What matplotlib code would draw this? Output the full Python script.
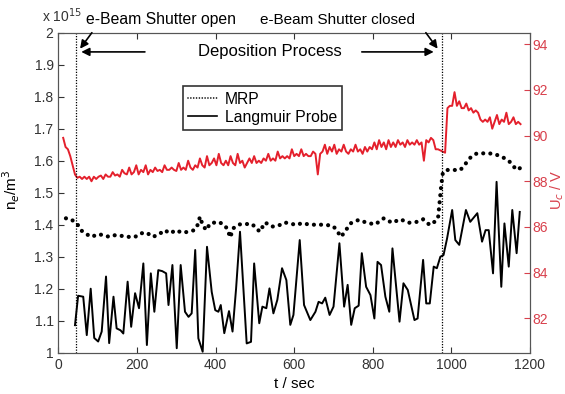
import numpy as np
import matplotlib
matplotlib.use("Agg")
import matplotlib.pyplot as plt

plt.rcParams['font.family'] = ['Liberation Sans', 'DejaVu Sans']

# Langmuir probe, n_e in 1e15 m^-3
t_lp = [42, 50, 63, 72, 82, 91, 101, 110, 121, 129, 140, 148, 158, 165, 176, 185,
        195, 205, 216, 225, 235, 244, 254, 264, 274, 280, 290, 301, 311, 322, 331,
        339, 348, 356, 367, 378, 390, 399, 407, 413, 422, 434, 443, 452, 462, 479,
        490, 498, 511, 519, 529, 537, 547, 557, 569, 580, 590, 598, 614, 625, 641,
        654, 662, 671, 679, 690, 700, 715, 727, 736, 745, 754, 764, 772, 783, 794,
        804, 812, 821, 832, 842, 850, 868, 878, 889, 906, 914, 928, 936, 945, 955,
        963, 972, 980, 989, 1002, 1010, 1020, 1037, 1048, 1066, 1078, 1087, 1095,
        1106, 1115, 1127, 1135, 1146, 1155, 1166, 1174]
n_lp = [1.086, 1.178, 1.175, 1.055, 1.20, 1.046, 1.035, 1.066, 1.238, 1.03, 1.175,
        1.076, 1.07, 1.06, 1.222, 1.081, 1.186, 1.139, 1.279, 1.024, 1.248, 1.128,
        1.258, 1.255, 1.248, 1.149, 1.274, 1.014, 1.274, 1.128, 1.112, 1.123, 1.321,
        1.045, 1.003, 1.331, 1.19, 1.133, 1.128, 1.149, 1.061, 1.130, 1.066, 1.20,
        1.378, 1.029, 1.034, 1.279, 1.092, 1.144, 1.139, 1.201, 1.123, 1.165, 1.264,
        1.227, 1.087, 1.118, 1.352, 1.149, 1.102, 1.128, 1.159, 1.154, 1.172, 1.118,
        1.144, 1.342, 1.144, 1.212, 1.087, 1.139, 1.147, 1.311, 1.206, 1.180, 1.107,
        1.284, 1.274, 1.175, 1.128, 1.326, 1.097, 1.217, 1.196, 1.102, 1.107, 1.290,
        1.154, 1.154, 1.269, 1.264, 1.30, 1.305, 1.357, 1.446, 1.352, 1.337, 1.446,
        1.409, 1.436, 1.347, 1.383, 1.383, 1.248, 1.534, 1.206, 1.404, 1.269, 1.446,
        1.311, 1.44]

# MRP, n_e in 1e15 m^-3
t_mrp = [19, 32, 48, 57, 70, 85, 99, 114, 129, 146, 161, 178, 195, 209, 225, 239,
         254, 270, 284, 299, 314, 331, 346, 355, 360, 367, 376, 386, 407, 423, 431,
         437, 445, 460, 475, 488, 501, 512, 526, 543, 560, 575, 590, 605, 620, 640,
         660, 680, 700, 712, 719, 730, 743, 764, 785, 806, 828, 849, 870, 891, 913,
         928, 945, 957, 966, 970, 974, 978, 985, 1008, 1023, 1037, 1050, 1065, 1081,
         1095, 1110, 1122, 1135, 1148, 1159, 1167, 1180]
n_mrp = [1.42, 1.417, 1.402, 1.383, 1.371, 1.362, 1.37, 1.368, 1.362, 1.368, 1.365,
         1.362, 1.362, 1.373, 1.375, 1.362, 1.368, 1.383, 1.373, 1.383, 1.375, 1.378,
         1.383, 1.401, 1.425, 1.399, 1.383, 1.404, 1.409, 1.399, 1.383, 1.36, 1.389,
         1.401, 1.401, 1.404, 1.394, 1.378, 1.407, 1.394, 1.397, 1.407, 1.404, 1.399,
         1.405, 1.40, 1.40, 1.40, 1.395, 1.375, 1.362, 1.38, 1.404, 1.415, 1.406,
         1.401, 1.42, 1.406, 1.417, 1.406, 1.409, 1.417, 1.399, 1.409, 1.42, 1.47,
         1.52, 1.56, 1.571, 1.571, 1.571, 1.592, 1.612, 1.623, 1.623, 1.623, 1.621,
         1.615, 1.608, 1.597, 1.581, 1.571, 1.581]

# U_c in V, sampled every 6 s from t = 12
t_uc = np.arange(12, 1177, 6)
u_c = [89.9, 89.5, 89.4, 89.1, 88.7, 88.3, 88.15, 88.2, 88.1, 88.2,
       88.1, 88.2, 88.0, 88.2, 88.1, 88.2, 88.25, 88.1, 88.3, 88.2,
       88.2, 88.4, 88.25, 88.3, 88.2, 88.5, 88.35, 88.3, 88.6, 88.3,
       88.4, 88.7, 88.3, 88.5, 88.4, 88.7, 88.3, 88.5, 88.4, 88.6,
       88.45, 88.5, 88.4, 88.7, 88.5, 88.5, 88.6, 88.5, 88.45, 88.8,
       88.5, 88.6, 88.5, 88.9, 88.6, 88.5, 88.7, 88.6, 89.0, 88.7,
       88.6, 89.1, 88.7, 88.8, 89.0, 88.7, 89.2, 88.8, 88.7, 88.9,
       88.7, 89.1, 88.8, 88.7, 89.2, 88.8, 88.9, 88.6, 88.8, 89.0,
       88.8, 89.1, 88.8, 88.9, 88.8, 89.0, 88.9, 89.2, 88.9, 89.0,
       88.9, 89.3, 89.0, 89.1, 89.0, 89.1, 89.0, 89.4, 89.1, 89.2,
       89.1, 89.4, 89.1, 89.2, 89.1, 89.1, 89.3, 89.2, 88.3, 89.2,
       89.3, 89.6, 89.2, 89.5, 89.3, 89.6, 89.2, 89.4, 89.3, 89.6,
       89.3, 89.2, 89.4, 89.3, 89.6, 89.3, 89.4, 89.2, 89.5, 89.3,
       89.5, 89.4, 89.7, 89.4, 89.8, 89.5, 89.7, 89.4, 89.8, 89.5,
       89.7, 89.5, 89.8, 89.6, 89.7, 89.5, 89.8, 89.6, 89.7, 89.6,
       89.8, 89.6, 89.7, 88.9, 89.8, 89.7, 89.9, 89.8, 89.4, 89.4,
       89.35, 89.3, 89.25, 91.2, 91.3, 91.3, 91.9, 91.3, 91.5, 91.2,
       91.2, 91.4, 91.1, 91.2, 91.0, 91.1, 91.0, 90.7, 90.6, 90.7,
       90.6, 90.8, 90.3, 90.6, 90.9, 90.5, 90.7, 90.6, 91.0, 90.5,
       90.6, 90.8, 90.5, 90.6, 90.5]

t_open, t_closed = 45, 975
red = '#e4202c'
red_txt = '#d8404c'

fig = plt.figure(figsize=(5.65, 3.94), dpi=100)
ax = fig.add_axes([0.1035, 0.1048, 0.8345, 0.8122])
ax2 = ax.twinx()

ax2.plot(t_uc, u_c, color=red, lw=1.4, zorder=3)
ax2.set_ylim(80.5, 94.5)
ax2.set_yticks(range(82, 95, 2))
ax2.tick_params(axis='y', direction='in', colors=red_txt, labelsize=10, length=4,
                pad=2)
# right axis label placed by hand so it stays inside the figure
fig.text(557 / 565, 1 - 190 / 394, 'U$_c$ / V', color=red_txt, fontsize=10.5,
         rotation=90, ha='center', va='center')

ax.set_zorder(ax2.get_zorder() + 1)
ax.patch.set_visible(False)
ax.plot(t_mrp, n_mrp, color='k', lw=3.0, linestyle=(0, (0.01, 1.7)),
        dash_capstyle='round', label='MRP')
ax.plot(t_lp, n_lp, color='k', lw=1.4, label='Langmuir Probe')
ax.axvline(t_open, color='k', lw=0.9, ls=(0, (1, 1.2)))
ax.axvline(t_closed, color='k', lw=0.9, ls=(0, (1, 1.2)))

ax.set_xlim(0, 1200)
ax.set_ylim(1, 2)
ax.set_xticks(range(0, 1201, 200))
ax.set_yticks(np.arange(1, 2.01, 0.1))
ax.set_yticklabels(['1', '1.1', '1.2', '1.3', '1.4', '1.5', '1.6', '1.7', '1.8', '1.9', '2'])
ax.tick_params(direction='in', labelsize=10, colors='#333333', length=4)
ax.tick_params(axis='x', top=True)
ax.set_xlabel('t / sec', fontsize=11, labelpad=4)
ax.set_ylabel('n$_e$/m$^3$', fontsize=11)
ax.yaxis.set_label_coords(-0.077, 0.51)
for s in ax.spines.values():
    s.set_color('#555555')
for s in ax2.spines.values():
    s.set_color('#555555')

ax.text(-42, 2.025, 'x 10$^{15}$', ha='left', va='bottom', fontsize=10, color='#333333')

leg = ax.legend(loc='upper left', bbox_to_anchor=(0.264, 0.833), borderaxespad=0,
                fancybox=False, edgecolor='k', fontsize=11.3, handlelength=1.8,
                handletextpad=0.5, borderpad=0.35, labelspacing=0.2)
leg.get_frame().set_linewidth(1.2)
leg.get_lines()[0].set_linewidth(1.2)
leg.get_lines()[1].set_linewidth(1.2)

ax.text(262, 2.04, 'e-Beam Shutter open', ha='center', va='center', fontsize=11.3)
ax.text(711, 2.04, 'e-Beam Shutter closed', ha='center', va='center', fontsize=11)
ax.text(538, 1.94, 'Deposition Process', ha='center', va='center', fontsize=12)

arr = dict(arrowstyle='-|>', color='k', lw=1.2, mutation_scale=12, shrinkA=0, shrinkB=0)
ax.annotate('', xy=(58, 1.94), xytext=(220, 1.94), arrowprops=arr)
ax.annotate('', xy=(955, 1.94), xytext=(772, 1.94), arrowprops=arr)
ax.annotate('', xy=(55, 1.95), xytext=(85, 2.0), arrowprops=arr, annotation_clip=False)
ax.annotate('', xy=(965, 1.95), xytext=(935, 2.0), arrowprops=arr, annotation_clip=False)

fig.savefig('out.png', dpi=100)
